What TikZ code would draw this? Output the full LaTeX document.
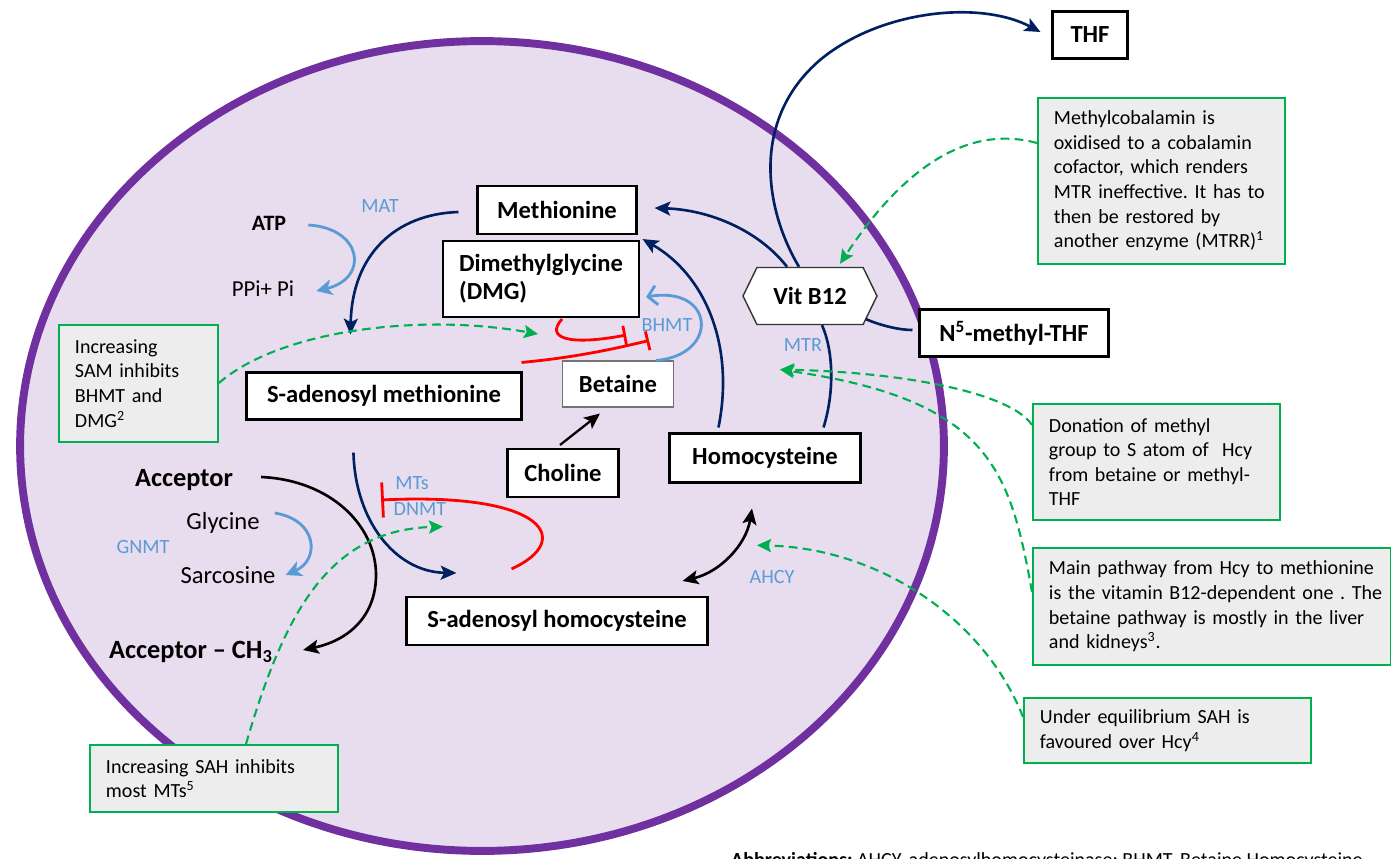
\documentclass[tikz,border=0pt]{standalone}
\usepackage{fontspec}
\setmainfont{Carlito}
\usetikzlibrary{arrows.meta,calc,shapes.symbols}
\definecolor{navy}{RGB}{0,32,96}
\definecolor{enzblue}{RGB}{91,155,213}
\definecolor{notegreen}{RGB}{0,176,80}
\definecolor{notegray}{RGB}{237,237,237}
\definecolor{cellpurple}{RGB}{112,48,160}
\definecolor{cellfill}{RGB}{231,221,239}
\frenchspacing
\hyphenpenalty=10000
\exhyphenpenalty=10000
\newcommand\molfont{\fontsize{14}{16}\selectfont\bfseries}
\newcommand\notefont{\fontsize{11.4}{14}\selectfont}
\newcommand\enzfont{\fontsize{11.5}{13}\selectfont}

\begin{document}
\begin{tikzpicture}[x=0.02cm,y=-0.02cm,
  mol/.style={draw,fill=white,line width=1.2pt,font=\molfont,inner sep=2pt},
  note/.style={draw=notegreen,fill=notegray,line width=1.1pt,anchor=north west,
    align=left,inner xsep=0.32cm,font=\notefont},
  enz/.style={text=enzblue,font=\enzfont,inner sep=1pt},
  navyline/.style={navy,line width=1.5pt},
  navyarrow/.style={navyline,-{Stealth[length=9pt,width=8pt,inset=2pt]}},
  lbarrow/.style={enzblue,line width=1.6pt,-{Stealth[length=9pt,width=9pt,inset=2.5pt]}},
  lbopen/.style={enzblue,line width=1.6pt,-{Straight Barb[length=5pt,width=11pt]}},
  blkarrow/.style={black,line width=1.3pt,-{Stealth[length=9pt,width=8pt,inset=2pt]}},
  twoway/.style={black,line width=1.5pt,{Stealth[length=9pt,width=8pt,inset=2pt]}-{Stealth[length=9pt,width=8pt,inset=2pt]}},
  inhib/.style={red,line width=1.6pt,-{Bar[width=11pt,line width=1.6pt]}},
  hint/.style={notegreen,line width=1.2pt,dash pattern=on 5pt off 3pt,
    -{Stealth[length=8pt,width=7.5pt,inset=1.5pt]}}]
\useasboundingbox (0,0) rectangle (1391,858);
% cell
\draw[cellpurple,fill=cellfill,line width=4.5pt] (482,446) ellipse [x radius=9.24cm,y radius=8.1cm];

% metabolites
\node[mol,minimum width=3.18cm,minimum height=0.96cm] (met) at (557,210) {Methionine};
\node[mol,minimum width=3.92cm,minimum height=1.52cm,align=left] (dmg) at (541,279) {Dimethylglycine\\(DMG)};
\node[mol,minimum width=5.5cm,minimum height=0.94cm] (sam) at (384,396) {S-adenosyl methionine};
\node[mol,draw=black!55,line width=0.6pt,minimum width=2.22cm,minimum height=0.92cm] (bet) at (618,384) {Betaine};
\node[mol,minimum width=2.22cm,minimum height=0.96cm] (cho) at (563,473) {Choline};
\node[mol,minimum width=3.82cm,minimum height=0.98cm] (hcy) at (765,458) {Homocysteine};
\node[mol,minimum width=6.02cm,minimum height=0.96cm] (sah) at (557,621) {S-adenosyl homocysteine};
\node[mol,minimum width=3.78cm,minimum height=0.94cm] (mthf) at (1014,333) {N\textsuperscript{5}-methyl-THF};
\node[mol,minimum width=1.5cm,minimum height=0.94cm] (thf) at (1090,35) {THF};
\node[mol,shape=signal,signal to=west and east,signal pointer angle=128,line width=0.8pt,
  draw=black!80,minimum width=2.68cm,minimum height=1.14cm] (b12) at (810,296) {Vit B12};

% side substrates
\node[font=\fontsize{12.5}{14}\selectfont\bfseries] (atp) at (269,223) {ATP};
\node[font=\fontsize{13}{15}\selectfont] (ppi) at (263,289) {PPi+ Pi};
\node[font=\fontsize{15}{17}\selectfont\bfseries] (acc) at (184,480) {Acceptor};
\node[font=\fontsize{14}{16}\selectfont] (gly) at (223,523) {Glycine};
\node[font=\fontsize{14}{16}\selectfont] (sar) at (228,575) {Sarcosine};
\node[font=\fontsize{15}{17}\selectfont\bfseries] (acch) at (191,652) {Acceptor -- CH\textsubscript{3}};

% enzymes
\node[enz] (mat) at (380,206) {MAT};
\node[enz] (gnmt) at (143,547) {GNMT};
\node[enz] (mts) at (412,483) {MTs};
\node[enz] (dnmt) at (420,509) {DNMT};
\node[enz] (bhmt) at (667,325) {BHMT};
\node[enz] (mtr) at (803,345) {MTR};
\node[enz] (ahcy) at (772,577) {AHCY};

% notes
\node[note,text width=4.3cm,minimum height=3.32cm] (mcnote) at (1037,97)
  {Methylcobalamin is\\oxidised to a cobalamin\\cofactor, which renders\\MTR ineffective. It has to\\then be restored by\\another enzyme (MTRR)\textsuperscript{1}};
\node[note,text width=4.3cm,minimum height=2.32cm] (donnote) at (1032,403)
  {Donation of methyl\\group to S atom of \ Hcy\\from betaine or methyl-\\THF};
\node[note,text width=6.52cm,minimum height=2.34cm] (mainnote) at (1032,547)
  {\mbox{Main pathway from Hcy to methionine}\\\mbox{is the vitamin B12-dependent one . The}\\betaine pathway is mostly in the liver\\and kidneys\textsuperscript{3}.};
\node[note,text width=5.1cm,minimum height=1.3cm] (eqnote) at (1023,697)
  {Under equilibrium SAH is\\favoured over Hcy\textsuperscript{4}};
\node[note,text width=2.54cm,minimum height=2.34cm] (samnote) at (58,324)
  {Increasing\\SAM inhibits\\BHMT and\\DMG\textsuperscript{2}};
\node[note,text width=4.32cm,minimum height=1.34cm] (sahnote) at (89,744)
  {Increasing SAH inhibits\\most MTs\textsuperscript{5}};

% methionine cycle
\draw[navyarrow] ($(met.west)+(-18,2)$) .. controls (395,214) and (352,255) .. ($(sam.north west)+(105,-37)$);
\draw[navyarrow] ($(sam.south west)+(108,32)$) .. controls (355,520) and (395,572) .. ($(sah.north west)+(51,-23)$);
\draw[twoway] ($(sah.north east)+(-26,-15)$) .. controls (720,572) and (746,545) .. ($(hcy.south)+(-13,25)$);
\draw[navyarrow] ($(hcy.north west)+(50,-5)$) .. controls (735,345) and (705,275) .. ($(met.south east)+(5,4)$);
\draw[navyarrow] ($(b12.north)+(-23,0)$) .. controls (760,232) and (712,210) .. ($(met.east)+(17,-2)$);
\draw[navyline] ($(hcy.north east)+(-38,-5)$) .. controls (835,390) and (833,350) .. ($(b12.south)+(12,0)$);
\draw[navyline] ($(b12.south)+(56,-6)$) .. controls (882,326) and (900,330) .. ($(mthf.west)+(-6,-3)$);
\draw[navyarrow] ($(b12.north)+(-11,0)$) .. controls (765,210) and (750,120) .. (820,60)
  .. controls (880,10) and (980,0) .. ($(thf.west)+(-11,-3)$);

% side reactions
\draw[lbarrow] ($(atp.east)+(16,2)$) .. controls (362,228) and (370,278) .. ($(ppi.east)+(16,2)$);
\draw[lbarrow] ($(gly.east)+(9,-10)$) .. controls (318,520) and (320,560) .. ($(sar.east)+(4,0)$);
\draw[lbopen] ($(bet.north east)+(-18,0)$) .. controls (720,355) and (715,285) .. ($(dmg.east)+(6,18)$);
\draw[blkarrow] ($(cho.north)+(-3,-3)$) -- ($(bet.south)+(-18,6)$);
\draw[blkarrow,line width=1.5pt] ($(acc.east)+(22,-3)$) .. controls (330,480) and (376,525) .. (376,575)
  .. controls (376,615) and (350,640) .. ($(acch.east)+(24,-2)$);

% inhibition
\draw[inhib,-{Bar[width=20pt,line width=1.6pt]}] ($(sah.north west)+(106,-27)$) .. controls (575,540) and (545,492) .. ($(mts.west)+(-12,17)$);
\draw[inhib] ($(dmg.south)+(21,1)$) .. controls (545,338) and (568,346) .. ($(dmg.south east)+(-14,17)$);
\draw[inhib] ($(sam.north east)+(-1,-9)$) .. controls (570,358) and (610,350) .. ($(bet.north east)+(-25,-20)$);

% note pointers
\draw[hint] ($(samnote.north east)+(0,59)$) .. controls (280,330) and (420,313) .. ($(dmg.south)+(-3,16)$);
\draw[hint] ($(sahnote.north west)+(157,0)$) .. controls (285,610) and (330,530) .. ($(dnmt.south)+(23,9)$);
\draw[hint] ($(mcnote.north west)+(0,46)$) .. controls (960,122) and (895,180) .. ($(b12.north)+(30,-3)$);
\draw[hint] ($(donnote.north west)+(0,22)$) .. controls (1010,392) and (900,372) .. ($(mtr.south)+(-23,16)$);
\draw[hint] ($(mainnote.north west)+(0,45)$) .. controls (1010,470) and (990,400) .. ($(mtr.south)+(-23,16)$);
\draw[hint] ($(eqnote.north west)+(0,20)$) .. controls (985,620) and (880,548) .. ($(ahcy.north)+(-15,-23)$);

% footer
\node[anchor=base west,font=\notefont] (abbr) at (725,866) {\textbf{Abbreviations:} AHCY, adenosylhomocysteinase; BHMT, Betaine Homocysteine};
\end{tikzpicture}
\end{document}
